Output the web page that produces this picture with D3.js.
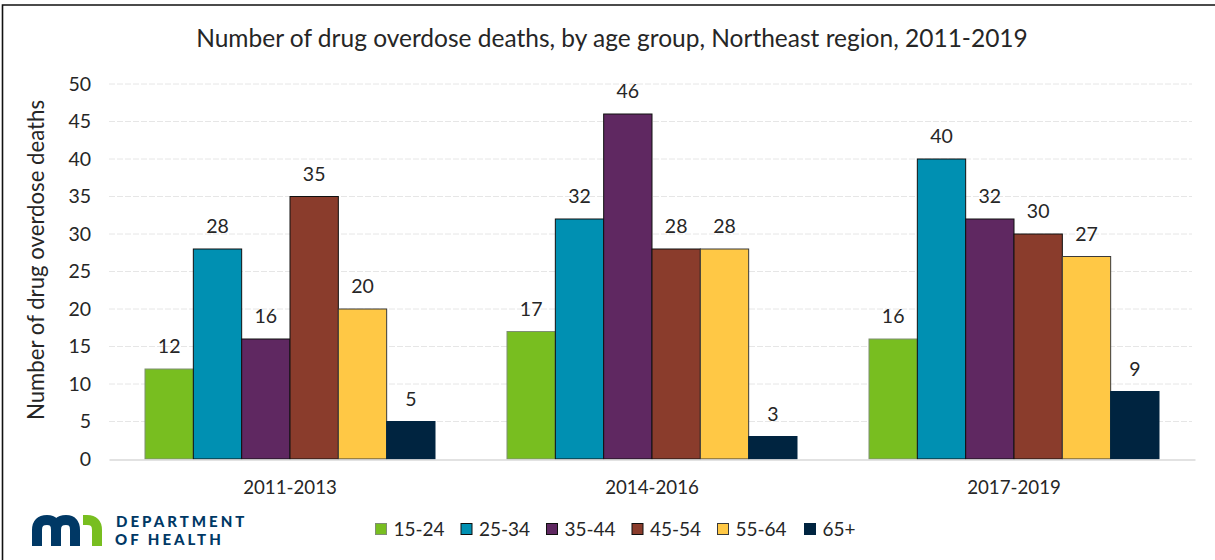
<!DOCTYPE html>
<html><head><meta charset="utf-8">
<script src="https://cdn.jsdelivr.net/npm/d3@7/dist/d3.min.js"></script>
<style>html,body{margin:0;padding:0;background:#fff}svg{display:block}text{font-family:Lato,"Open Sans",sans-serif;fill:#262626}</style>
</head><body><svg id="c" width="1215" height="560"></svg>
<script>
const periods = ["2011-2013", "2014-2016", "2017-2019"];
const ageGroups = ["15-24", "25-34", "35-44", "45-54", "55-64", "65+"];
const deaths15to24 = [12, 17, 16];
const deaths25to34 = [28, 32, 40];
const deaths35to44 = [16, 46, 32];
const deaths45to54 = [35, 28, 30];
const deaths55to64 = [20, 28, 27];
const deaths65plus = [5, 3, 9];
const seriesValues = [deaths15to24, deaths25to34, deaths35to44, deaths45to54, deaths55to64, deaths65plus];
const seriesColors = ["#78be20", "#0090b2", "#5f2861", "#8a3c2c", "#ffc845", "#002440"];
const seriesStrokes = ["#7f8f72", "#101010", "#101010", "#101010", "#3a3a3a", "#002440"];
const yTicks = [0, 5, 10, 15, 20, 25, 30, 35, 40, 45, 50];

const svg = d3.select("#c");
const x = d3.scaleBand().domain(periods).range([109, 1195]);
const groupInset = 36;
const x1 = d3.scaleBand().domain(ageGroups).range([groupInset, x.bandwidth() - groupInset]);
const y = d3.scaleLinear().domain([0, 50]).range([459, 84]);

// frame: left and top edges only
svg.append("path").attr("d", "M2.5,560V5H1215").attr("fill", "none").attr("stroke", "#111").attr("stroke-width", 1.6);

// title
svg.append("text").attr("x", 612).attr("y", 46.5).attr("text-anchor", "middle").attr("font-size", 24.5).text("Number of drug overdose deaths, by age group, Northeast region, 2011-2019");

// gridlines
svg.append("g").selectAll("line").data(yTicks.slice(1)).join("line")
  .attr("x1", 109).attr("x2", 1192).attr("y1", d => y(d)).attr("y2", d => y(d))
  .attr("stroke", "#e6e6e6").attr("stroke-width", 1).attr("stroke-dasharray", "6 2");

// y axis
const yAxis = svg.append("g").attr("transform", "translate(109,0)").call(d3.axisLeft(y).tickValues(yTicks).tickSize(0).tickPadding(0));
yAxis.select(".domain").remove();
yAxis.selectAll("text").attr("x", -18).attr("y", -1).attr("dy", "0.36em").attr("font-size", 19.5).style("font-family", null);

svg.append("text").attr("transform", "translate(44,260) rotate(-90)").attr("text-anchor", "middle").attr("font-size", 22.2).text("Number of drug overdose deaths");

// bars and value labels
ageGroups.forEach((g, i) => {
  const layer = svg.append("g");
  layer.selectAll("rect").data(periods).join("rect")
    .attr("x", p => x(p) + x1(g)).attr("width", x1.bandwidth())
    .attr("y", (p, j) => y(seriesValues[i][j]))
    .attr("height", (p, j) => y(0) - y(seriesValues[i][j]))
    .attr("fill", seriesColors[i]).attr("stroke", seriesStrokes[i]).attr("stroke-width", 1);
  layer.selectAll("text").data(periods).join("text")
    .attr("x", p => x(p) + x1(g) + x1.bandwidth() / 2)
    .attr("y", (p, j) => y(seriesValues[i][j]) - 16)
    .attr("text-anchor", "middle").attr("font-size", 19.5)
    .text((p, j) => seriesValues[i][j]);
});

// x axis
const xAxis = svg.append("g").attr("transform", "translate(0,459.5)").call(d3.axisBottom(x).tickSize(0).tickPadding(0));
xAxis.select(".domain").attr("stroke", "#d9d9d9").attr("stroke-width", 1.5);
xAxis.selectAll("text").attr("y", 34).attr("dy", 0).attr("font-size", 18.7).style("font-family", null);

// legend
const legendX = [375.5, 461, 546.5, 632, 717.5, 804.5];
const legend = svg.append("g").selectAll("g").data(ageGroups).join("g")
  .attr("transform", (d, i) => `translate(${legendX[i]},523.5)`);
legend.append("rect").attr("width", 11).attr("height", 11)
  .attr("fill", (d, i) => seriesColors[i]).attr("stroke", (d, i) => seriesStrokes[i]).attr("stroke-width", 1);
legend.append("text").attr("x", 18).attr("y", 12).attr("font-size", 19).text(d => d);

// department logo
const logo = svg.append("g").attr("fill", "none").attr("stroke-width", 10);
logo.append("path").attr("stroke", "#003865").attr("d", "M37,546V530Q37,520 47,520Q56,520 56,530V546M56,530Q56,520 66,520Q75,520 75,530V546");
logo.append("path").attr("stroke", "#78be20").attr("d", "M83,520H87Q97,520 97,530V546");
svg.append("text").attr("x", 116).attr("y", 527).attr("font-size", 15).attr("font-weight", 900).attr("letter-spacing", 3).style("fill", "#003865").text("DEPARTMENT");
svg.append("text").attr("x", 115).attr("y", 545).attr("font-size", 15).attr("font-weight", 900).attr("letter-spacing", 3).style("fill", "#003865").text("OF HEALTH");
</script></body></html>
